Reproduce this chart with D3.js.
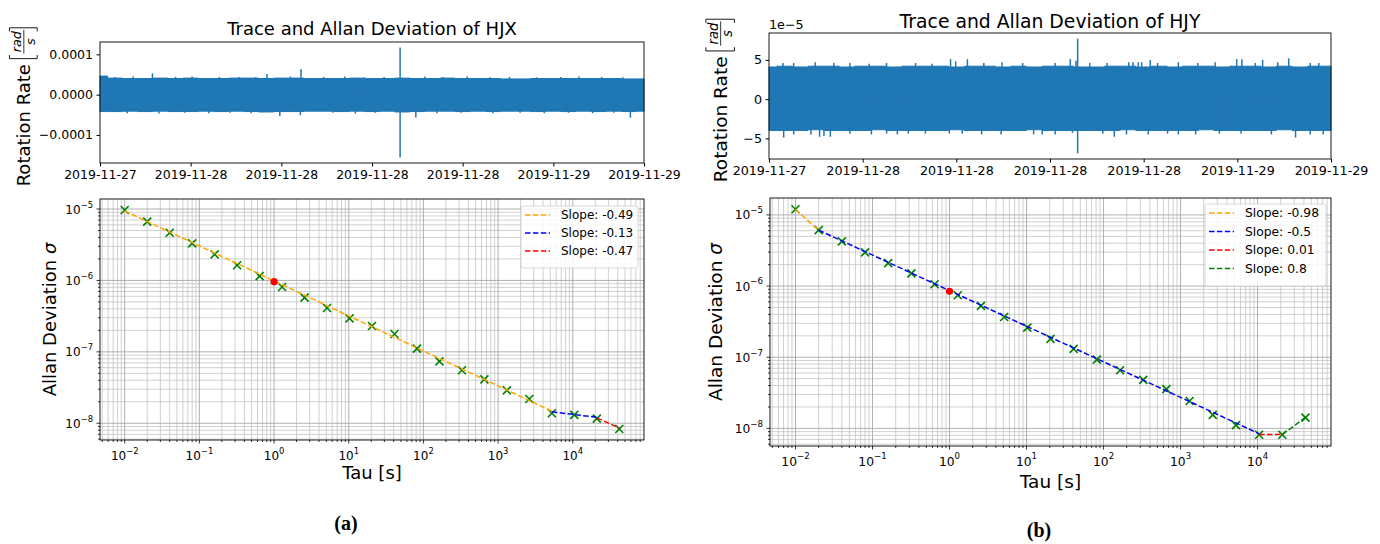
<!DOCTYPE html>
<html>
<head>
<meta charset="utf-8">
<script src="https://cdn.jsdelivr.net/npm/d3@7"></script>
<style>
  body { margin: 0; background: #fff; }
  svg { display: block; }
  text { font-family: "DejaVu Sans", sans-serif; fill: #000; }
</style>
</head>
<body>
<svg id="fig" width="1380" height="544"></svg>
<script>
// ---- Gyro trace: 36 h of rotation-rate data, values in units of 1e-5 rad/s ----
const traceStart = Date.UTC(2019, 10, 27, 18); // 2019-11-27 18:00 UTC
const traceHours = 36;

// hourly envelope of the dense noise band (upper / lower edge)
const hjxUpper = [4.6,4.1,4.0,4.0,4.1,4.0,4.1,4.0,4.0,4.1,4.1,4.0,4.1,4.1,4.0,4.0,4.0,4.1,4.0,4.0,4.1,4.0,4.0,4.1,4.0,4.0,4.0,3.9,3.9,4.0,4.0,4.0,4.0,4.0,4.0,3.9,3.9];
const hjxLower = [-4.2,-4.2,-4.1,-4.2,-4.1,-4.2,-4.2,-4.1,-4.2,-4.1,-4.2,-4.3,-4.2,-4.2,-4.1,-4.1,-4.2,-4.1,-4.2,-4.1,-4.3,-4.2,-4.1,-4.1,-4.2,-4.1,-4.2,-4.1,-4.1,-4.2,-4.1,-4.2,-4.1,-4.2,-4.1,-4.2,-4.1];
// isolated excursions: [hour, value]
const hjxPeaksUp = [[1.0,4.4],[2.2,4.5],[3.47,5.3],[5.0,4.4],[6.1,4.5],[7.9,4.4],[9.2,4.4],[10.3,4.3],[11.05,5.1],[12.6,4.5],[13.3,6.3],[14.8,4.4],[16.2,4.5],[17.5,4.3],[18.8,4.4],[19.86,11.7],[21.5,4.5],[22.7,4.4],[24.3,4.5],[25.8,4.3],[27.1,4.4],[28.9,4.3],[30.5,4.4],[31.7,4.5],[33.2,4.4],[34.6,4.3]];
const hjxPeaksDown = [[1.8,-4.6],[3.9,-4.7],[5.6,-4.5],[7.2,-4.6],[8.6,-4.5],[10.0,-4.6],[11.9,-5.3],[13.26,-5.1],[15.4,-4.5],[16.9,-4.7],[18.2,-4.5],[19.86,-15.6],[20.9,-5.7],[22.3,-4.6],[23.9,-4.5],[26.0,-4.6],[27.8,-4.5],[29.4,-4.6],[31.0,-4.5],[32.6,-4.6],[34.0,-4.5],[35.1,-5.7]];

const hjyUpper = [4.1,4.2,4.1,4.2,4.2,4.1,4.2,4.2,4.1,4.2,4.2,4.2,4.1,4.2,4.2,4.1,4.2,4.1,4.2,4.2,4.1,4.1,4.2,4.2,4.1,4.2,4.1,4.2,4.2,4.1,4.2,4.2,4.1,4.2,4.1,4.2,4.2];
const hjyLower = [-4.0,-4.0,-4.0,-3.9,-4.0,-4.0,-4.0,-3.9,-4.0,-4.0,-4.0,-4.0,-3.9,-4.0,-4.0,-4.0,-4.0,-3.9,-4.0,-4.0,-4.0,-4.0,-4.0,-3.9,-4.0,-4.0,-4.0,-4.0,-3.9,-4.0,-4.0,-4.0,-4.0,-3.9,-4.0,-4.0,-4.0];
const hjyPeaksUp = [[0.89,4.6],[1.58,4.6],[2.96,4.7],[4.15,4.6],[5.18,4.6],[6.42,4.5],[7.53,4.6],[9.39,4.6],[10.44,4.5],[11.63,5.1],[11.96,4.8],[12.71,5.1],[13.76,4.6],[14.93,4.7],[16.25,4.6],[18.33,4.6],[19.30,5.1],[19.66,4.9],[19.77,7.7],[20.55,4.6],[21.65,4.6],[23.04,4.7],[23.32,4.7],[23.65,4.7],[23.87,4.7],[24.42,5.0],[24.89,4.6],[26.22,4.7],[27.47,4.6],[28.58,4.7],[29.96,5.1],[30.29,5.1],[31.15,4.6],[31.62,5.0],[32.59,4.7],[33.29,5.2],[34.67,4.6],[35.22,4.6]];
const hjyPeaksDown = [[0.94,-4.9],[1.58,-4.5],[2.69,-4.5],[3.24,-4.8],[3.52,-4.7],[3.93,-4.8],[5.18,-4.4],[6.56,-4.5],[7.53,-4.4],[8.22,-4.5],[8.92,-4.4],[10.02,-4.4],[11.55,-4.4],[12.38,-4.4],[13.62,-4.5],[14.87,-4.5],[16.95,-4.5],[17.50,-4.5],[18.33,-4.5],[19.44,-4.3],[19.77,-6.9],[21.38,-4.4],[22.12,-4.8],[22.90,-4.5],[24.29,-4.5],[25.53,-4.4],[26.22,-4.5],[27.33,-4.5],[28.85,-4.4],[30.24,-4.4],[32.18,-4.5],[33.73,-4.9],[34.67,-4.5],[35.50,-4.5]];

// ---- Allan deviation (tau in s, sigma in rad/s) ----
const tauValues = [0.01,0.02,0.04,0.08,0.16,0.32,0.64,1.28,2.56,5.12,10.24,20.48,40.96,81.92,163.84,327.68,655.36,1310.72,2621.44,5242.88,10485.76,20971.52,41943.04];
const hjxSigma = [9.7e-6,6.65e-6,4.66e-6,3.3e-6,2.32e-6,1.63e-6,1.15e-6,8.1e-7,5.74e-7,4.11e-7,2.94e-7,2.3e-7,1.78e-7,1.11e-7,7.37e-8,5.52e-8,4.12e-8,2.89e-8,2.19e-8,1.38e-8,1.31e-8,1.16e-8,8.3e-9];
const hjySigma = [1.2e-5,6.11e-6,4.25e-6,2.98e-6,2.1e-6,1.51e-6,1.06e-6,7.43e-7,5.28e-7,3.67e-7,2.61e-7,1.81e-7,1.31e-7,9.24e-8,6.56e-8,4.81e-8,3.56e-8,2.43e-8,1.55e-8,1.11e-8,8.15e-9,8.15e-9,1.42e-8];
const hjxAtTau1 = 9.6e-7;   // angle random walk read-off at tau = 1 s
const hjyAtTau1 = 8.45e-7;

// piecewise log-log fits: start tau, end tau, sigma at start, slope
const hjxFits = [
  { tau0: 0.01,     tau1: 5242.88,  sigma0: 9.4e-6,  slope: -0.49, color: "orange" },
  { tau0: 5242.88,  tau1: 20971.52, sigma0: 1.45e-8, slope: -0.13, color: "blue" },
  { tau0: 20971.52, tau1: 41943.04, sigma0: 1.19e-8, slope: -0.47, color: "red" }
];
const hjyFits = [
  { tau0: 0.01,     tau1: 0.02,     sigma0: 1.2e-5,  slope: -0.98, color: "orange" },
  { tau0: 0.02,     tau1: 10485.76, sigma0: 6.1e-6,  slope: -0.5,  color: "blue" },
  { tau0: 10485.76, tau1: 20971.52, sigma0: 8.2e-9,  slope: 0.01,  color: "red" },
  { tau0: 20971.52, tau1: 41943.04, sigma0: 8.2e-9,  slope: 0.8,   color: "green" }
];

const svg = d3.select("#fig");
const BLUE = "#1f77b4";
const sup = n => (n < 0 ? "\u2212" : "") + Math.abs(n);

function logPad(ext) {
  const a = Math.log10(ext[0]), b = Math.log10(ext[1]), p = (b - a) * 0.05;
  return [10 ** (a - p), 10 ** (b + p)];
}

function frame(g, x0, x1, y0, y1) {
  g.append("rect").attr("x", x0).attr("y", y0).attr("width", x1 - x0).attr("height", y1 - y0)
    .attr("fill", "none").attr("stroke", "#000").attr("stroke-width", 0.9);
}

// rotated "Rotation Rate [rad/s]" label
function rateLabel(cx, cy, fs) {
  const g = svg.append("g").attr("transform", `translate(${cx},${cy}) rotate(-90)`);
  const k = fs / 17.5;
  const total = 163 * k;
  const start = -total / 2;
  const t = g.append("text").attr("x", start).attr("y", 0).attr("font-size", fs).text("Rotation Rate");
  const w = t.node().getComputedTextLength();
  const bx = start + w + fs * 0.3;
  const top = -20 * k, bot = 7 * k;
  const br = (x, dir) => g.append("path")
    .attr("d", `M${x + dir * 3.5 * k},${top}H${x}V${bot}H${x + dir * 3.5 * k}`)
    .attr("fill", "none").attr("stroke", "#000").attr("stroke-width", 0.9);
  br(bx, 1);
  const fx = bx + 5 * k, fw = 23 * k;
  g.append("text").attr("x", fx + fw / 2).attr("y", -8.5 * k).attr("text-anchor", "middle")
    .attr("font-size", 12.5 * k).attr("font-style", "italic").text("rad");
  g.append("line").attr("x1", fx).attr("x2", fx + fw).attr("y1", -6 * k).attr("y2", -6 * k)
    .attr("stroke", "#000").attr("stroke-width", 0.8);
  g.append("text").attr("x", fx + fw / 2).attr("y", 4.5 * k).attr("text-anchor", "middle")
    .attr("font-size", 12.5 * k).attr("font-style", "italic").text("s");
  br(fx + fw + 2 * k, -1);
}

function tracePanel(o) {
  const g = svg.append("g");
  const t0 = new Date(traceStart), t1 = new Date(traceStart + traceHours * 3600e3);
  const hour = h => new Date(traceStart + h * 3600e3);
  const x = d3.scaleUtc().domain([t0, t1]).range([o.x0, o.x1]);
  const all = o.upper.concat(o.lower, o.up.map(d => d[1]), o.down.map(d => d[1]));
  const ext = d3.extent(all), pad = (ext[1] - ext[0]) * 0.05;
  const y = d3.scaleLinear().domain([ext[0] - pad, ext[1] + pad]).range([o.y1, o.y0]);

  const area = d3.area().curve(d3.curveStep)
    .x((d, i) => x(hour(i))).y0((d, i) => y(o.lower[i])).y1(d => y(d));
  g.append("path").datum(o.upper).attr("d", area).attr("fill", BLUE).attr("stroke", BLUE).attr("stroke-width", 1);

  g.selectAll(null).data(o.up.concat(o.down)).join("line")
    .attr("x1", d => x(hour(d[0]))).attr("x2", d => x(hour(d[0])))
    .attr("y1", y(0)).attr("y2", d => y(d[1]))
    .attr("stroke", BLUE).attr("stroke-width", 1.5);

  const fs = o.fs;
  const xa = d3.axisBottom(x).tickValues(d3.utcHour.every(6).range(t0, new Date(+t1 + 1)))
    .tickFormat(d3.utcFormat("%Y-%m-%d")).tickSize(3.5).tickPadding(3.5);
  const gx = g.append("g").attr("transform", `translate(0,${o.y1})`).call(xa);
  gx.select(".domain").remove();
  gx.selectAll("text").attr("font-size", fs).attr("font-family", "DejaVu Sans").attr("fill", "#000");

  const ya = d3.axisLeft(y).tickValues(o.yTicks).tickFormat(o.yFmt).tickSize(3.5).tickPadding(3.5);
  const gy = g.append("g").attr("transform", `translate(${o.x0},0)`).call(ya);
  gy.select(".domain").remove();
  gy.selectAll("text").attr("font-size", fs).attr("font-family", "DejaVu Sans").attr("fill", "#000");
  frame(g, o.x0, o.x1, o.y0, o.y1);

  if (o.offset) {
    g.append("text").attr("x", o.x0).attr("y", o.y0 - 4).attr("font-size", fs).text(o.offset);
  }
  g.append("text").attr("x", (o.x0 + o.x1) / 2).attr("y", o.titleY).attr("text-anchor", "middle")
    .attr("font-size", o.tfs).text(o.title);
}

function allanPanel(o) {
  const g = svg.append("g");
  const fitEnds = o.fits.flatMap(f => [f.sigma0, f.sigma0 * (f.tau1 / f.tau0) ** f.slope]);
  const x = d3.scaleLog().domain(logPad(d3.extent(tauValues))).range([o.x0, o.x1]);
  const y = d3.scaleLog().domain(logPad(d3.extent(o.sigma.concat(fitEnds)))).range([o.y1, o.y0]);

  const within = (s, v) => { const d = s.domain(); return v >= d[0] * 0.9999 && v <= d[1] * 1.0001; };
  const decades = (s) => {
    const d = s.domain(), lo = Math.floor(Math.log10(d[0])), hi = Math.ceil(Math.log10(d[1]));
    const maj = [], min = [];
    for (let e = lo; e <= hi; e++) {
      if (within(s, 10 ** e)) maj.push(e);
      for (let k = 2; k <= 9; k++) if (within(s, k * 10 ** e)) min.push(k * 10 ** e);
    }
    return { maj, min };
  };
  const xt = decades(x), yt = decades(y);

  // grid
  const grid = g.append("g");
  grid.selectAll(null).data(xt.min).join("line")
    .attr("x1", d => x(d)).attr("x2", d => x(d)).attr("y1", o.y0).attr("y2", o.y1)
    .attr("stroke", "#c4c4c4").attr("stroke-width", 0.8);
  grid.selectAll(null).data(yt.min).join("line")
    .attr("y1", d => y(d)).attr("y2", d => y(d)).attr("x1", o.x0).attr("x2", o.x1)
    .attr("stroke", "#c4c4c4").attr("stroke-width", 0.8);
  grid.selectAll(null).data(xt.maj).join("line")
    .attr("x1", d => x(10 ** d)).attr("x2", d => x(10 ** d)).attr("y1", o.y0).attr("y2", o.y1)
    .attr("stroke", "#a8a8a8").attr("stroke-width", 0.9);
  grid.selectAll(null).data(yt.maj).join("line")
    .attr("y1", d => y(10 ** d)).attr("y2", d => y(10 ** d)).attr("x1", o.x0).attr("x2", o.x1)
    .attr("stroke", "#a8a8a8").attr("stroke-width", 0.9);

  // ticks
  const ticks = g.append("g").attr("stroke", "#000").attr("stroke-width", 0.8);
  xt.maj.forEach(e => ticks.append("line").attr("x1", x(10 ** e)).attr("x2", x(10 ** e)).attr("y1", o.y1).attr("y2", o.y1 + 3.5));
  xt.min.forEach(v => ticks.append("line").attr("x1", x(v)).attr("x2", x(v)).attr("y1", o.y1).attr("y2", o.y1 + 2));
  yt.maj.forEach(e => ticks.append("line").attr("y1", y(10 ** e)).attr("y2", y(10 ** e)).attr("x1", o.x0).attr("x2", o.x0 - 3.5));
  yt.min.forEach(v => ticks.append("line").attr("y1", y(v)).attr("y2", y(v)).attr("x1", o.x0).attr("x2", o.x0 - 2));

  const fs = o.fs;
  xt.maj.forEach(e => {
    const t = g.append("text").attr("x", x(10 ** e)).attr("y", o.y1 + 19.5).attr("text-anchor", "middle").attr("font-size", fs);
    t.append("tspan").text("10");
    t.append("tspan").attr("dy", -fs * 0.5).attr("font-size", fs * 0.7).text(sup(e));
  });
  yt.maj.forEach(e => {
    const t = g.append("text").attr("x", o.x0 - 7).attr("y", y(10 ** e) + 4.5).attr("text-anchor", "end").attr("font-size", fs);
    t.append("tspan").text("10");
    t.append("tspan").attr("dy", -fs * 0.5).attr("font-size", fs * 0.7).text(sup(e));
  });

  // markers
  const m = 4;
  g.selectAll(null).data(tauValues.map((t, i) => [t, o.sigma[i]])).join("path")
    .attr("transform", d => `translate(${x(d[0])},${y(d[1])})`)
    .attr("d", `M${-m},${-m}L${m},${m}M${-m},${m}L${m},${-m}`)
    .attr("stroke", "green").attr("stroke-width", 1.6).attr("fill", "none");

  // fitted segments
  const line = d3.line().x(d => x(d[0])).y(d => y(d[1]));
  o.fits.forEach(f => {
    g.append("path").datum([[f.tau0, f.sigma0], [f.tau1, f.sigma0 * (f.tau1 / f.tau0) ** f.slope]])
      .attr("d", line).attr("fill", "none").attr("stroke", f.color)
      .attr("stroke-width", 1.5).attr("stroke-dasharray", "5.5,2.4");
  });

  g.append("circle").attr("cx", x(1)).attr("cy", y(o.tau1)).attr("r", 3.6).attr("fill", "red");

  frame(g, o.x0, o.x1, o.y0, o.y1);

  // legend
  const L = o.legend;
  const lg = g.append("g");
  lg.append("rect").attr("x", L.x).attr("y", L.y).attr("width", L.w).attr("height", 8 + o.fits.length * L.dy)
    .attr("rx", 2.5).attr("fill", "#fff").attr("fill-opacity", 0.85).attr("stroke", "#d5d5d5").attr("stroke-width", 0.9);
  o.fits.forEach((f, i) => {
    const yy = L.y + 9 + L.dy * i;
    lg.append("line").attr("x1", L.x + 4).attr("x2", L.x + 29).attr("y1", yy).attr("y2", yy)
      .attr("stroke", f.color).attr("stroke-width", 1.5).attr("stroke-dasharray", "5.5,2.4");
    lg.append("text").attr("x", L.x + 40).attr("y", yy + 4.3).attr("font-size", fs).text("Slope: " + String(f.slope));
  });

  // axis labels
  g.append("text").attr("x", (o.x0 + o.x1) / 2).attr("y", o.xlabY).attr("text-anchor", "middle")
    .attr("font-size", o.lfs).text("Tau [s]");
  const yl = g.append("text").attr("transform", `translate(${o.ylabX},${(o.y0 + o.y1) / 2}) rotate(-90)`)
    .attr("text-anchor", "middle").attr("font-size", o.lfs);
  yl.append("tspan").text("Allan Deviation ");
  yl.append("tspan").attr("font-style", "italic").text("\u03c3");
}

// ---- (a) HJX ----
tracePanel({
  x0: 100, x1: 644, y0: 42, y1: 163, upper: hjxUpper, lower: hjxLower, up: hjxPeaksUp, down: hjxPeaksDown,
  yTicks: [-10, 0, 10], yFmt: v => d3.format(".4f")(v * 1e-5), fs: 12.5, tfs: 18,
  title: "Trace and Allan Deviation of HJX", titleY: 35
});
rateLabel(30, 102.5, 18);
allanPanel({
  x0: 100, x1: 644, y0: 199, y1: 440, sigma: hjxSigma, fits: hjxFits, tau1: hjxAtTau1, fs: 12, lfs: 18,
  legend: { x: 521, y: 206, w: 117, dy: 18 }, xlabY: 479, ylabX: 56
});

// ---- (b) HJY ----
tracePanel({
  x0: 769, x1: 1331, y0: 33, y1: 159, upper: hjyUpper, lower: hjyLower, up: hjyPeaksUp, down: hjyPeaksDown,
  yTicks: [-5, 0, 5], yFmt: d3.format("d"), fs: 12.7, tfs: 18.8, offset: "1e\u22125",
  title: "Trace and Allan Deviation of HJY", titleY: 28
});
rateLabel(727, 96, 18.5);
allanPanel({
  x0: 770, x1: 1331, y0: 198, y1: 446, sigma: hjySigma, fits: hjyFits, tau1: hjyAtTau1, fs: 12.3, lfs: 18.5,
  legend: { x: 1205, y: 204, w: 121, dy: 18.5 }, xlabY: 488, ylabX: 722
});

// sub-figure captions
svg.append("text").attr("x", 346).attr("y", 530).attr("text-anchor", "middle")
  .style("font-family", "'Liberation Serif', serif").attr("font-weight", "bold").attr("font-size", 20).text("(a)");
svg.append("text").attr("x", 1039).attr("y", 537).attr("text-anchor", "middle")
  .style("font-family", "'Liberation Serif', serif").attr("font-weight", "bold").attr("font-size", 20).text("(b)");
</script>
</body>
</html>
